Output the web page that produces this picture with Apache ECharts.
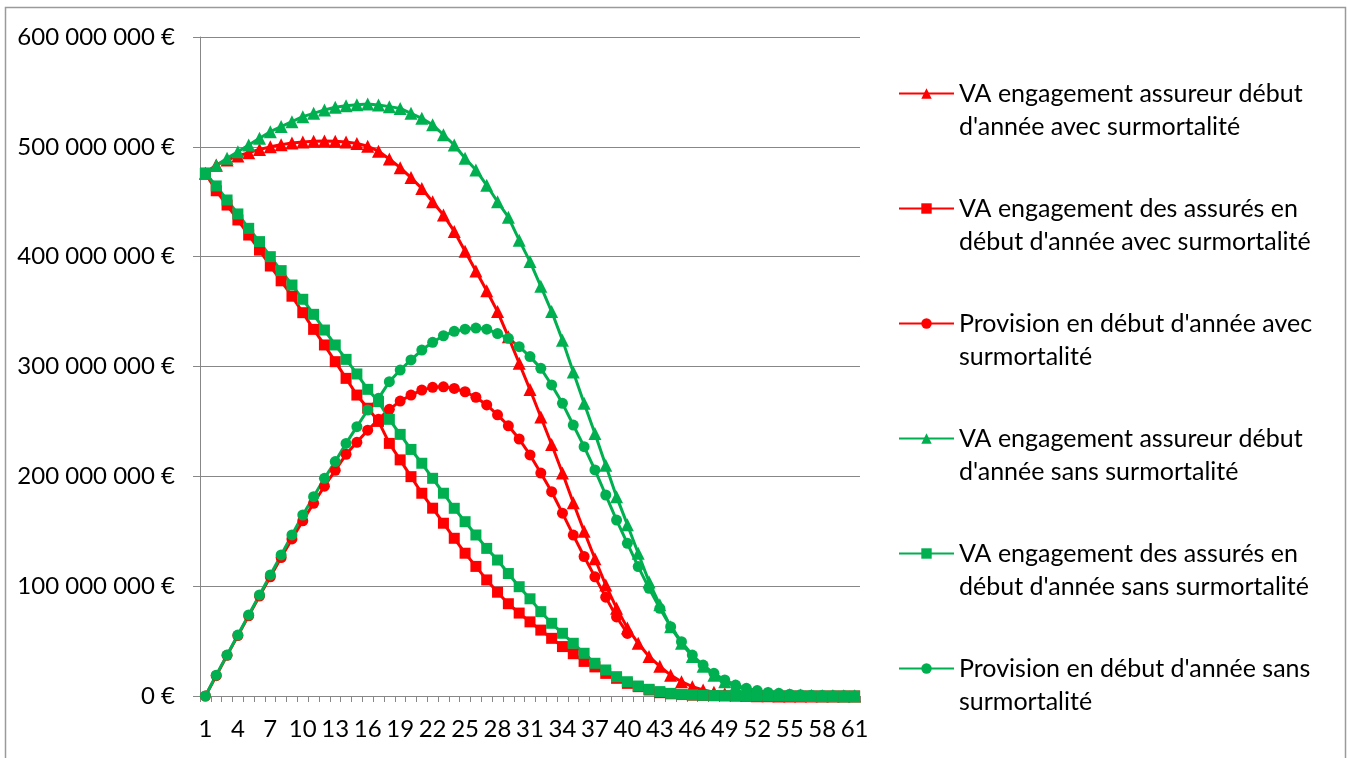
<!DOCTYPE html>
<html>
<head>
<meta charset="utf-8">
<script src="https://cdn.jsdelivr.net/npm/echarts@6/dist/echarts.min.js"></script>
<style>
  html, body { margin: 0; padding: 0; background: #ffffff; }
  #chart { width: 1347px; height: 758px; }
</style>
</head>
<body>
<div id="chart"></div>
<script>
// Categories (years 1..61)
const categories = [];
for (let i = 1; i <= 61; i++) categories.push(String(i));

// Values in millions of euros
const vaAssureurAvec = [476, 483.5, 488, 491.7, 494.7, 497.6, 500, 502, 503.5, 504.5, 505, 505.2, 505, 504.5, 503, 500.5, 496, 489, 481, 472, 462, 450, 438, 423, 405, 387, 369, 350, 327, 303, 279, 254, 229, 203, 176, 150, 125, 101, 80, 62, 48, 36, 27, 19, 13, 8.5, 5.5, 3.4, 2, 1.1, 0.6, 0.3, 0.2, 0.1, 0, 0, 0, 0, 0, 0, 0];
const vaAssuresAvec = [476, 460, 447, 433.4, 419.7, 406, 391.5, 378, 364, 349, 333.8, 319.6, 304.4, 289.2, 274, 262, 250, 230, 215, 199.7, 184.6, 171, 157.3, 143.6, 130, 118, 105.7, 94.5, 84, 75.5, 67.5, 60, 52.5, 45, 38.5, 31.5, 26.5, 20.6, 16.1, 11.5, 8.5, 5.5, 3, 2, 1.3, 0.8, 0.5, 0.3, 0.2, 0.1, 0, 0, 0, 0, 0, 0, 0, 0, 0, 0, 0];
const provisionAvec = [0, 18.5, 37, 55, 73, 91, 108.5, 126, 143, 159.5, 175.5, 191, 205.5, 220, 231, 242, 252, 261, 268.5, 274, 278.5, 281, 281.5, 280, 277, 272, 265, 256, 246, 234, 219.5, 203, 186, 166.5, 146.5, 127, 108.5, 90, 72, 57];
const vaAssureurSans = [476, 483, 489.6, 495.6, 501.7, 507.8, 513.8, 518.4, 522.9, 527.5, 530.5, 533.6, 536, 537.5, 538.3, 539, 538, 536.6, 535, 530.5, 526, 520, 511, 501.7, 489.6, 479, 465, 450, 436, 415, 395.5, 373, 350, 324, 295, 266.5, 239, 210, 181.5, 156, 130, 104, 83, 63, 48, 36, 27, 19, 13, 9, 6, 4, 2.7, 1.8, 1.2, 0.8, 0.5, 0.3, 0.2, 0.1, 0];
const vaAssuresSans = [476, 464.4, 451.6, 438.9, 425.8, 413.7, 400, 387.3, 374.2, 361.2, 347.5, 333.2, 319.6, 306.5, 293.2, 279.2, 268, 251.9, 238.2, 224.5, 211.9, 198.2, 184.6, 170.9, 158.7, 146.6, 134.4, 123.8, 111.5, 99.5, 88.5, 76.8, 66.2, 57.1, 48, 38.9, 29.8, 23.7, 17.6, 13, 9.1, 6.1, 4, 2.4, 1.5, 1, 0.6, 0.4, 0.2, 0.1, 0, 0, 0, 0, 0, 0, 0, 0, 0, 0, 0];
const provisionSans = [0, 19, 37.3, 55.5, 73.8, 92, 110.2, 128.4, 146.6, 164.8, 181.5, 198.2, 213.4, 230, 245.2, 260.4, 271, 286.2, 296.8, 306, 315, 322, 328, 332, 334, 335, 334, 330, 325.7, 318, 309, 298.3, 283.2, 266.5, 246.7, 227, 205.8, 183, 160.2, 139, 117.8, 98, 79.8, 63.1, 49.5, 37.3, 28.2, 20.6, 14.6, 10, 7, 4.9, 3.3, 2.4, 1.6, 1.1, 0.7, 0.5, 0.3, 0.2, 0.1];

const seriesNames = [
  "VA engagement assureur début d'année avec surmortalité",
  "VA engagement des assurés en début d'année avec surmortalité",
  "Provision en début d'année avec surmortalité",
  "VA engagement assureur début d'année sans surmortalité",
  "VA engagement des assurés en début d'année sans surmortalité",
  "Provision en début d'année sans surmortalité"
];
const legendLabels = [
  "VA engagement assureur début\nd'année avec surmortalité",
  "VA engagement des assurés en\ndébut d'année avec surmortalité",
  "Provision en début d'année avec\nsurmortalité",
  "VA engagement assureur début\nd'année sans surmortalité",
  "VA engagement des assurés en\ndébut d'année sans surmortalité",
  "Provision en début d'année sans\nsurmortalité"
];
const yTicks = [0, 100000000, 200000000, 300000000, 400000000, 500000000, 600000000];

const RED = '#FF0000', GREEN = '#00B050';
const seriesData = [vaAssureurAvec, vaAssuresAvec, provisionAvec, vaAssureurSans, vaAssuresSans, provisionSans];
const colors = [RED, RED, RED, GREEN, GREEN, GREEN];
const symbols = ['triangle', 'rect', 'circle', 'triangle', 'rect', 'circle'];
const symbolSizes = [13, 11, 11, 13, 11, 11];

const FONT = 'Lato';
function fmtEuro(v) {
  return String(Math.round(v)).replace(/\B(?=(\d{3})+(?!\d))/g, ' ') + ' €';
}

const chart = echarts.init(document.getElementById('chart'), null, { renderer: 'canvas' });
chart.setOption({
  animation: false,
  backgroundColor: '#ffffff',
  textStyle: { fontFamily: FONT },
  graphic: [{
    type: 'rect',
    shape: { x: 5.5, y: 7.5, width: 1340, height: 770 },
    style: { fill: 'none', stroke: '#9a9a9a', lineWidth: 1.5 },
    silent: true
  }],
  grid: { left: 200, right: 487, top: 37, bottom: 62, containLabel: false },
  legend: {
    orient: 'vertical',
    left: 898,
    top: 44,
    padding: 0,
    itemGap: 16,
    itemWidth: 55,
    itemHeight: 13,
    selectedMode: false,
    data: seriesNames,
    // leading empty line so the icon sits beside the first text line
    formatter: function (name) { return '\n' + legendLabels[seriesNames.indexOf(name)]; },
    textStyle: { fontFamily: FONT, fontSize: 25, color: '#000', lineHeight: 33 }
  },
  xAxis: {
    type: 'category',
    data: categories,
    boundaryGap: true,
    axisLine: { lineStyle: { color: '#878787', width: 1 } },
    axisTick: { show: true, interval: 0, length: 6, lineStyle: { color: '#878787' } },
    axisLabel: { interval: 2, fontFamily: FONT, fontSize: 24, color: '#000', margin: 21 },
    splitLine: { show: false }
  },
  yAxis: {
    type: 'value',
    min: yTicks[0],
    max: yTicks[yTicks.length - 1],
    interval: yTicks[1] - yTicks[0],
    axisLine: { show: true, lineStyle: { color: '#878787', width: 1 } },
    axisTick: { show: true, length: 7, lineStyle: { color: '#878787' } },
    axisLabel: { fontFamily: FONT, fontSize: 24, color: '#000', margin: 25, formatter: fmtEuro },
    splitLine: { show: true, lineStyle: { color: '#878787', width: 1 } }
  },
  series: seriesData.map(function (arr, k) {
    return {
      name: seriesNames[k],
      type: 'line',
      data: arr.map(function (v) { return v * 1e6; }),
      symbol: symbols[k],
      symbolSize: symbolSizes[k],
      showAllSymbol: true,
      color: colors[k],
      lineStyle: { color: colors[k], width: 3 },
      itemStyle: { color: colors[k] },
      smooth: false
    };
  })
});
</script>
</body>
</html>
